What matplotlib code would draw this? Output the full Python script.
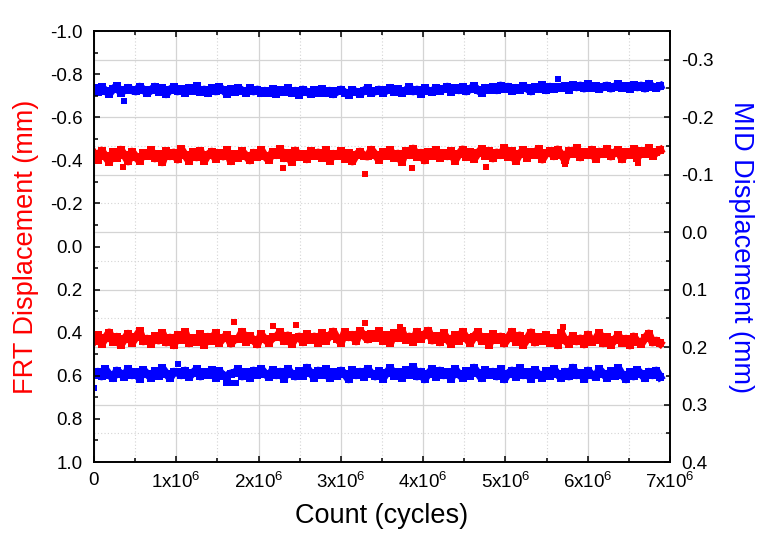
import numpy as np
import matplotlib
matplotlib.use("Agg")
import matplotlib.pyplot as plt
from matplotlib.ticker import MultipleLocator, FixedLocator, FixedFormatter

plt.rcParams['font.family'] = ['Liberation Sans', 'DejaVu Sans']
plt.rcParams['mathtext.fontset'] = 'custom'
plt.rcParams['mathtext.rm'] = 'Liberation Sans'
plt.rcParams['mathtext.it'] = 'Liberation Sans'

# cycle count of each logged sample (150 samples, evenly logged)
count = np.linspace(0, 6.88e6, 150)

# MID displacement, upper trace (mm, right axis)
mid_upper = [
    -0.250, -0.244, -0.252, -0.246, -0.241, -0.249, -0.254, -0.243, -0.247, -0.251, -0.247, -0.245, -0.253, -0.248, -0.242,
    -0.247, -0.253, -0.244, -0.250, -0.240, -0.248, -0.252, -0.245, -0.249, -0.243, -0.251, -0.246, -0.254, -0.244, -0.248,
    -0.242, -0.250, -0.245, -0.252, -0.247, -0.241, -0.249, -0.244, -0.251, -0.246, -0.243, -0.250, -0.245, -0.248, -0.242,
    -0.246, -0.243, -0.249, -0.241, -0.247, -0.244, -0.250, -0.242, -0.246, -0.239, -0.248, -0.244, -0.241, -0.247, -0.243,
    -0.249, -0.242, -0.246, -0.240, -0.245, -0.248, -0.243, -0.239, -0.247, -0.244, -0.241, -0.246, -0.250, -0.243, -0.245,
    -0.248, -0.242, -0.247, -0.251, -0.244, -0.249, -0.243, -0.246, -0.252, -0.245, -0.248, -0.241, -0.250, -0.246, -0.244,
    -0.251, -0.246, -0.249, -0.253, -0.244, -0.250, -0.247, -0.252, -0.245, -0.249, -0.254, -0.247, -0.243, -0.251, -0.248,
    -0.252, -0.247, -0.255, -0.249, -0.253, -0.246, -0.251, -0.248, -0.254, -0.250, -0.245, -0.252, -0.249, -0.256, -0.247,
    -0.253, -0.249, -0.252, -0.251, -0.254, -0.248, -0.256, -0.252, -0.255, -0.250, -0.257, -0.251, -0.254, -0.249, -0.253,
    -0.255, -0.250, -0.253, -0.257, -0.251, -0.254, -0.249, -0.256, -0.252, -0.255, -0.250, -0.258, -0.253, -0.251, -0.254,
]
mid_upper_stray_count = [0.37e6, 5.64e6]
mid_upper_stray = [-0.229, -0.267]

# MID displacement, lower trace (mm, right axis)
mid_lower = [
    0.248, 0.243, 0.251, 0.239, 0.248, 0.254, 0.241, 0.246, 0.252, 0.238, 0.249, 0.244, 0.255, 0.240, 0.247,
    0.253, 0.242, 0.250, 0.237, 0.246, 0.254, 0.243, 0.244, 0.249, 0.241, 0.252, 0.245, 0.239, 0.251, 0.244,
    0.248, 0.240, 0.253, 0.242, 0.250, 0.250, 0.246, 0.245, 0.239, 0.251, 0.244, 0.254, 0.241, 0.248, 0.238,
    0.246, 0.252, 0.240, 0.249, 0.243, 0.255, 0.238, 0.247, 0.251, 0.242, 0.250, 0.236, 0.245, 0.253, 0.241,
    0.248, 0.239, 0.254, 0.244, 0.250, 0.241, 0.247, 0.256, 0.240, 0.249, 0.243, 0.252, 0.238, 0.246, 0.251,
    0.242, 0.255, 0.245, 0.237, 0.250, 0.244, 0.253, 0.240, 0.248, 0.235, 0.251, 0.243, 0.256, 0.246, 0.239,
    0.252, 0.241, 0.249, 0.244, 0.255, 0.238, 0.247, 0.253, 0.242, 0.250, 0.236, 0.245, 0.254, 0.240, 0.248,
    0.243, 0.251, 0.239, 0.256, 0.246, 0.241, 0.252, 0.237, 0.249, 0.244, 0.255, 0.240, 0.248, 0.253, 0.242,
    0.250, 0.238, 0.247, 0.254, 0.243, 0.251, 0.236, 0.249, 0.245, 0.255, 0.241, 0.248, 0.252, 0.239, 0.246,
    0.253, 0.242, 0.250, 0.237, 0.248, 0.256, 0.244, 0.251, 0.240, 0.247, 0.254, 0.243, 0.249, 0.241, 0.252,
]
mid_lower_stray_count = [0.0, 1.02e6, 1.60e6, 1.66e6, 1.72e6]
mid_lower_stray = [0.271, 0.230, 0.262, 0.263, 0.262]

# FRT displacement, upper trace (mm, left axis)
frt_upper = [
    -0.431, -0.402, -0.445, -0.418, -0.394, -0.437, -0.412, -0.449, -0.425, -0.395, -0.440, -0.416, -0.398, -0.433, -0.421,
    -0.447, -0.409, -0.428, -0.391, -0.442, -0.419, -0.436, -0.404, -0.451, -0.423, -0.398, -0.438, -0.414, -0.444, -0.397,
    -0.426, -0.440, -0.407, -0.433, -0.418, -0.446, -0.396, -0.429, -0.411, -0.441, -0.421, -0.400, -0.435, -0.415, -0.448,
    -0.419, -0.401, -0.439, -0.424, -0.452, -0.410, -0.432, -0.392, -0.445, -0.417, -0.428, -0.405, -0.441, -0.420, -0.436,
    -0.413, -0.447, -0.399, -0.430, -0.422, -0.443, -0.408, -0.434, -0.395, -0.425, -0.440, -0.421, -0.418, -0.449, -0.427,
    -0.403, -0.437, -0.420, -0.446, -0.412, -0.431, -0.393, -0.442, -0.424, -0.454, -0.416, -0.435, -0.400, -0.438, -0.422,
    -0.448, -0.411, -0.433, -0.419, -0.443, -0.399, -0.428, -0.450, -0.415, -0.439, -0.406, -0.432, -0.452, -0.421, -0.444,
    -0.409, -0.436, -0.424, -0.455, -0.417, -0.441, -0.397, -0.430, -0.447, -0.413, -0.438, -0.426, -0.453, -0.404, -0.433,
    -0.442, -0.419, -0.450, -0.427, -0.401, -0.445, -0.431, -0.456, -0.414, -0.437, -0.424, -0.449, -0.408, -0.440, -0.429,
    -0.453, -0.418, -0.436, -0.446, -0.405, -0.439, -0.425, -0.451, -0.412, -0.443, -0.430, -0.455, -0.420, -0.438, -0.447,
]
frt_upper_stray_count = [0.35e6, 2.30e6, 3.29e6, 3.86e6, 4.76e6, 5.72e6, 6.61e6]
frt_upper_stray = [-0.369, -0.364, -0.336, -0.366, -0.370, -0.383, -0.387]

# FRT displacement, lower trace (mm, left axis)
frt_lower = [
    0.438, 0.412, 0.451, 0.425, 0.399, 0.443, 0.419, 0.457, 0.430, 0.405, 0.447, 0.421, 0.394, 0.440, 0.428,
    0.452, 0.416, 0.436, 0.401, 0.445, 0.423, 0.458, 0.410, 0.433, 0.398, 0.449, 0.426, 0.441, 0.407, 0.455,
    0.419, 0.437, 0.403, 0.446, 0.424, 0.412, 0.450, 0.430, 0.429, 0.396, 0.443, 0.417, 0.435, 0.454, 0.408,
    0.431, 0.446, 0.422, 0.420, 0.398, 0.439, 0.413, 0.452, 0.425, 0.418, 0.444, 0.406, 0.433, 0.418, 0.448,
    0.402, 0.437, 0.415, 0.395, 0.428, 0.446, 0.398, 0.421, 0.410, 0.440, 0.392, 0.412, 0.431, 0.406, 0.424,
    0.394, 0.437, 0.412, 0.447, 0.401, 0.425, 0.390, 0.433, 0.418, 0.442, 0.396, 0.428, 0.409, 0.391, 0.436,
    0.415, 0.444, 0.403, 0.430, 0.452, 0.411, 0.437, 0.396, 0.426, 0.448, 0.419, 0.398, 0.439, 0.422, 0.455,
    0.407, 0.434, 0.418, 0.450, 0.425, 0.396, 0.441, 0.413, 0.456, 0.429, 0.399, 0.445, 0.420, 0.437, 0.410,
    0.446, 0.424, 0.458, 0.403, 0.436, 0.451, 0.415, 0.440, 0.427, 0.454, 0.409, 0.443, 0.432, 0.402, 0.449,
    0.421, 0.455, 0.434, 0.412, 0.447, 0.428, 0.459, 0.418, 0.441, 0.452, 0.426, 0.404, 0.445, 0.437, 0.450,
]
frt_lower_stray_count = [1.70e6, 2.17e6, 2.45e6, 3.29e6, 3.72e6, 5.70e6]
frt_lower_stray = [0.350, 0.369, 0.364, 0.355, 0.374, 0.374]

count_ticks = [0, 1e6, 2e6, 3e6, 4e6, 5e6, 6e6, 7e6]
count_labels = ['0', r'1x10$^{6}$', r'2x10$^{6}$', r'3x10$^{6}$', r'4x10$^{6}$',
                r'5x10$^{6}$', r'6x10$^{6}$', r'7x10$^{6}$']

RED = '#ff0000'
BLUE = '#0000ff'

fig = plt.figure(figsize=(7.76, 5.51), dpi=100)

# base axes carries the MID (right) scale and the grid, so the grid sits under everything
ax_mid = fig.add_axes([0.1211, 0.1615, 0.7423, 0.7822])
ax_frt = ax_mid.twinx()
ax_mid.yaxis.tick_right()
ax_mid.yaxis.set_label_position('right')
ax_frt.yaxis.tick_left()
ax_frt.yaxis.set_label_position('left')

ax_mid.set_axisbelow(True)
ax_mid.grid(which='major', color='#d4d4d4', lw=0.9, ls='-')
ax_mid.grid(which='minor', color='#d4d4d4', lw=0.8, ls=(0, (1, 2)))

# dense logging shows up as a solid jagged band, so join fat square markers;
# the odd stray samples are drawn as lone squares
band = dict(ls='-', lw=5.8, marker='s', ms=5.8, mew=0, solid_joinstyle='round')
stray = dict(ls='none', marker='s', ms=4.2, mew=0)
ax_mid.plot(count, mid_upper, color=BLUE, **band)
ax_mid.plot(count, mid_lower, color=BLUE, **band)
ax_mid.plot(mid_upper_stray_count, mid_upper_stray, color=BLUE, **stray)
ax_mid.plot(mid_lower_stray_count, mid_lower_stray, color=BLUE, **stray)
ax_frt.plot(count, frt_upper, color=RED, **band)
ax_frt.plot(count, frt_lower, color=RED, **band)
ax_frt.plot(frt_upper_stray_count, frt_upper_stray, color=RED, **stray)
ax_frt.plot(frt_lower_stray_count, frt_lower_stray, color=RED, **stray)

ax_mid.set_xlim(0, 7e6)
ax_mid.set_ylim(0.4, -0.35)
ax_frt.set_ylim(1.0, -1.0)

fmt = plt.FuncFormatter(lambda v, p: '0.0' if abs(v) < 1e-9 else f'{v:.1f}')
ax_mid.xaxis.set_major_locator(FixedLocator(count_ticks))
ax_mid.xaxis.set_major_formatter(FixedFormatter(count_labels))
ax_mid.xaxis.set_minor_locator(MultipleLocator(0.5e6))
ax_mid.yaxis.set_major_locator(MultipleLocator(0.1))
ax_mid.yaxis.set_minor_locator(MultipleLocator(0.05))
ax_mid.yaxis.set_major_formatter(fmt)
ax_frt.yaxis.set_major_locator(MultipleLocator(0.2))
ax_frt.yaxis.set_minor_locator(MultipleLocator(0.1))
ax_frt.yaxis.set_major_formatter(fmt)

for a in (ax_mid, ax_frt):
    for s in a.spines.values():
        s.set_linewidth(1.2)
    a.tick_params(which='both', direction='in', width=1.1, labelsize=13.5)
    a.tick_params(which='major', length=4.5)
    a.tick_params(which='minor', length=3)

ax_mid.tick_params(axis='x', which='both', top=True, pad=7)
ax_mid.tick_params(axis='y', which='both', left=False, right=True, pad=8)
ax_frt.tick_params(axis='y', which='both', right=False, left=True, pad=8)

ax_frt.set_ylabel('FRT Displacement (mm)', color=RED, fontsize=19.5, labelpad=8)
ax_mid.set_ylabel('MID Displacement (mm)', color=BLUE, fontsize=19.5, rotation=270, labelpad=29)
ax_mid.set_xlabel('Count (cycles)', fontsize=19.5, labelpad=8)

fig.savefig('out.png', dpi=100)
